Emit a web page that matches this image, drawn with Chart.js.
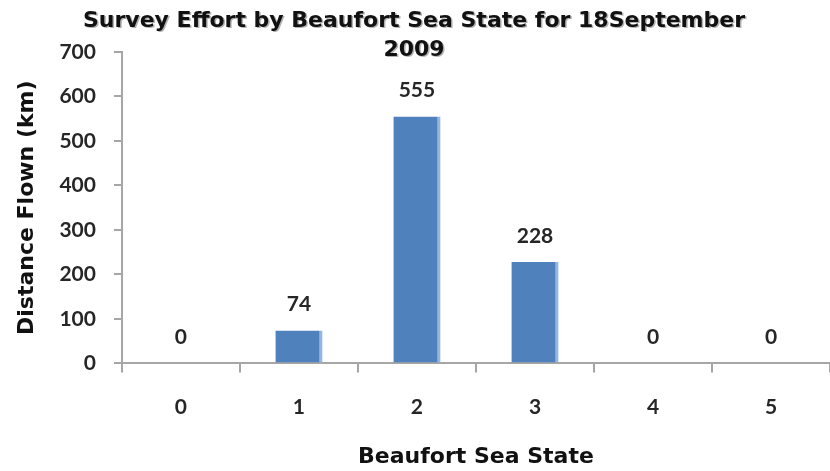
<!DOCTYPE html>
<html>
<head>
<meta charset="utf-8">
<script src="https://cdn.jsdelivr.net/npm/chart.js@4/dist/chart.umd.min.js"></script>
<style>
  html, body { margin: 0; padding: 0; background: #fff; }
  #wrap { width: 830px; height: 471px; position: relative; }
</style>
</head>
<body>
<div id="wrap"><canvas id="c" width="830" height="471"></canvas></div>
<script>
const categories = ['0', '1', '2', '3', '4', '5'];
const distanceKm = [0, 74, 555, 228, 0, 0];
const yTicks = [0, 100, 200, 300, 400, 500, 600, 700];
const titleLines = ['Survey Effort by Beaufort Sea State for 18September', '2009'];
const xTitle = 'Beaufort Sea State';
const yTitle = 'Distance Flown (km)';

const tickFont = { family: 'Lato', size: 21, weight: 'bold' };
const titleFont = { family: 'DejaVu Sans', size: 22, weight: 'bold' };

const titlePlugin = {
  id: 'twoLineTitle',
  afterDraw(chart) {
    const ctx = chart.ctx;
    ctx.save();
    ctx.font = 'bold 22px "DejaVu Sans"';
    ctx.textAlign = 'center';
    ctx.textBaseline = 'middle';
    const ys = [21, 50];
    titleLines.forEach((t, i) => {
      ctx.fillStyle = 'rgba(0,0,0,0.3)';
      ctx.fillText(t, 414 + 1.5, ys[i] + 1.5);
      ctx.fillStyle = '#111';
      ctx.fillText(t, 414, ys[i]);
    });
    ctx.restore();
  }
};

const labelPlugin = {
  id: 'valueLabels',
  afterDatasetsDraw(chart) {
    const ctx = chart.ctx;
    const meta = chart.getDatasetMeta(0);
    const yScale = chart.scales.y;
    ctx.save();
    ctx.font = 'bold 21px Lato';
    ctx.fillStyle = '#262626';
    ctx.textAlign = 'center';
    ctx.textBaseline = 'middle';
    meta.data.forEach((bar, i) => {
      const v = distanceKm[i];
      const y = yScale.getPixelForValue(v) - 26;
      ctx.fillText(String(v), bar.x, y);
    });
    ctx.restore();
  }
};

new Chart(document.getElementById('c'), {
  type: 'bar',
  data: {
    labels: categories,
    datasets: [{
      data: distanceKm,
      backgroundColor: '#4F81BD',
      borderColor: '#95B6E0',
      borderWidth: { top: 0, left: 0, bottom: 0, right: 3 },
      borderSkipped: false,
      categoryPercentage: 1.0,
      barPercentage: 0.4
    }]
  },
  options: {
    responsive: false,
    animation: false,
    layout: { padding: { top: 52, right: -3, bottom: 0, left: 13 } },
    plugins: {
      legend: { display: false },
      title: { display: false },
      tooltip: { enabled: false }
    },
    scales: {
      x: {
        offset: true,
        grid: { offset: true, drawOnChartArea: false, drawTicks: true, tickLength: 9, color: '#a6a6a6', lineWidth: 2 },
        border: { display: true, color: '#a6a6a6', width: 2 },
        ticks: { font: tickFont, color: '#262626', padding: 22 },
        title: { display: true, text: xTitle, font: titleFont, color: '#111', padding: { top: 2, bottom: 1 } }
      },
      y: {
        min: 0,
        max: 700,
        afterBuildTicks(axis) { axis.ticks = yTicks.map(v => ({ value: v })); },
        grid: { drawOnChartArea: false, drawTicks: true, tickLength: 8, color: '#a6a6a6', lineWidth: 2 },
        border: { display: true, color: '#a6a6a6', width: 2 },
        ticks: { font: tickFont, color: '#262626', padding: 18 },
        title: { display: true, text: yTitle, font: titleFont, color: '#111', padding: { top: 1, bottom: 1 } }
      }
    }
  },
  plugins: [titlePlugin, labelPlugin]
});
</script>
</body>
</html>
